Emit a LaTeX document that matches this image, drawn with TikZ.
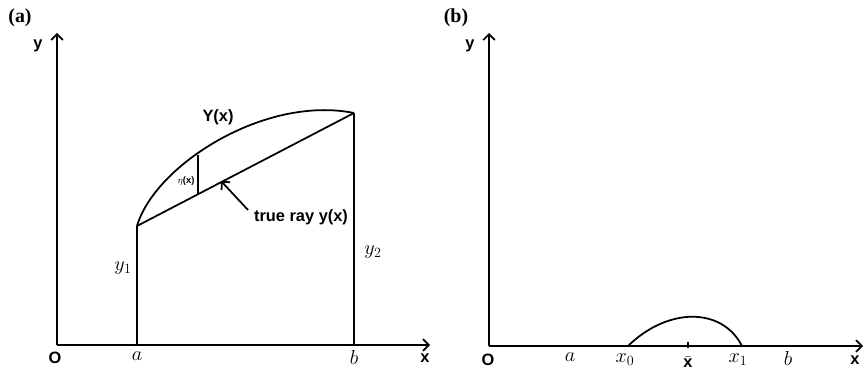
\documentclass[tikz,border=0pt]{standalone}
\usepackage{fontspec}
\setmainfont{Liberation Serif}
\setsansfont{Liberation Sans}
\usetikzlibrary{arrows.meta}

\begin{document}
\begin{tikzpicture}[
    x=0.03cm, y=-0.03cm,
    axis/.style={line width=1.5pt, -{Straight Barb[length=5pt,width=10pt]}},
    curve/.style={line width=1.5pt},
    panel/.style={font=\fontsize{17}{19}\selectfont\bfseries\rmfamily},
    lbl/.style={font=\fontsize{14}{16}\selectfont\bfseries\sffamily},
    mlbl/.style={font=\fontsize{17}{19}\selectfont},
]
\useasboundingbox (0,0) rectangle (864,371);

% Panel (a)
\node[panel] (pa) at (20,18) {(a)};
\coordinate (oa) at (57,345);
\coordinate (ya) at (57,33);
\coordinate (xa) at (430,345);
\coordinate (abot) at (137,345);
\coordinate (atop) at (137,226);
\coordinate (bbot) at (354,345);
\coordinate (btop) at (354,113);
\coordinate (etatop) at (198,155);
\coordinate (etabot) at (198,194);
\coordinate (raytip) at (221,181);
\coordinate (raytail) at (248,210);

\node[lbl] (ylab) at (38,46) {y};
\node[lbl] (olab) at (55,358) {O};
\node[lbl] (xlab) at (425,358) {x};
\node[mlbl] (alab) at (137,356) {$a$};
\node[mlbl] (blab) at (354,357) {$b$};
\node[mlbl] (y1lab) at (123,268) {$y_1$};
\node[mlbl] (y2lab) at (373,252) {$y_2$};
\node[lbl] (Ylab) at (218,117) {Y(x)};
\node[font=\fontsize{8}{9}\selectfont\bfseries\sffamily] (etalab) at (186,181) {$\eta$(x)};
\node[lbl] (raylab) at (301,217) {true ray y(x)};

\draw[axis] (oa) -- (ya);
\draw[axis] (oa) -- (xa);
\draw[curve] (abot) -- (atop);
\draw[curve] (bbot) -- (btop);
\draw[curve] (atop) -- (btop);
\draw[curve] (atop) .. controls (155,165) and (265,95) .. (btop);
\draw[curve] (etatop) -- (etabot);
\draw[curve, -{Straight Barb[length=5pt,width=10pt]}] (raytail) -- (raytip);

% Panel (b)
\node[panel] (pb) at (456,18) {(b)};
\coordinate (ob) at (489,346);
\coordinate (yb) at (489,33);
\coordinate (xb) at (863,346);
\coordinate (x0) at (628,346);
\coordinate (x1) at (742,346);
\coordinate (xbar) at (688,346);

\node[lbl] (ylabb) at (470,46) {y};
\node[lbl] (olabb) at (488,360) {O};
\node[lbl] (xlabb) at (855,360) {x};
\node[mlbl] (alabb) at (570,357) {$a$};
\node[mlbl] (x0lab) at (625,360) {$x_0$};
\node[lbl, inner sep=1pt] (xbarlab) at (688,362) {$\bar{\textbf{x}}$};
\node[mlbl] (x1lab) at (738,360) {$x_1$};
\node[mlbl] (blabb) at (788,358) {$b$};

\draw[axis] (ob) -- (yb);
\draw[axis] (ob) -- (xb);
\draw[curve] (x0) .. controls (668,307) and (722,307) .. (x1);
\draw[curve] (xbar) ++(0,-4) -- ++(0,6);

\end{tikzpicture}
\end{document}
